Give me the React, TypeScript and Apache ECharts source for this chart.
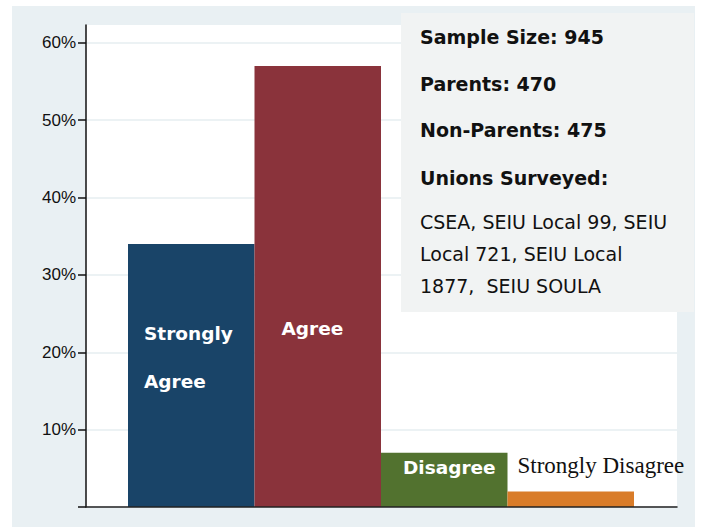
import React, { useEffect, useRef } from "react";
import * as echarts from "echarts";

const categories = ["Strongly Agree", "Agree", "Disagree", "Strongly Disagree"];
const values = [34, 57, 7, 2];
const barColors = ["#194468", "#8a333b", "#52722f", "#d97c29"];
const yTicks = [0, 10, 20, 30, 40, 50, 60];
const yLabels = [10, 20, 30, 40, 50, 60];
const yMax = 62.3;
const boxHeadings = ["Sample Size: 945", "Parents: 470", "Non-Parents: 475", "Unions Surveyed:"];
const boxBody = ["CSEA, SEIU Local 99, SEIU", "Local 721, SEIU Local", "1877,  SEIU SOULA"];

const labelConfigs: any[] = [
  { formatter: "Strongly\nAgree", position: [16, 66], verticalAlign: "top", lineHeight: 48, color: "#fff", fontWeight: "bold", fontFamily: "DejaVu Sans", fontSize: 18.5 },
  { formatter: "Agree", position: [27, 262], verticalAlign: "middle", color: "#fff", fontWeight: "bold", fontFamily: "DejaVu Sans", fontSize: 18.5 },
  { formatter: "Disagree", position: [22, 15], verticalAlign: "middle", color: "#fff", fontWeight: "bold", fontFamily: "DejaVu Sans", fontSize: 18.5 },
  { formatter: "Strongly Disagree", position: [10, -26], verticalAlign: "middle", color: "#111", fontWeight: "normal", fontFamily: "Liberation Serif", fontSize: 23 },
];

export default function App() {
  const ref = useRef<HTMLDivElement>(null);
  useEffect(() => {
    if (!ref.current) return;
    const chart = echarts.init(ref.current, null, { renderer: "svg" });
    const headingY = [31, 78, 124, 172];
    const bodyY = [216, 248, 280];
    const graphics: any[] = [
      { type: "rect", shape: { x: 389, y: 7, width: 293, height: 299 }, style: { fill: "#f1f3f3" }, z: 10 },
      ...boxHeadings.map((t, i) => ({
        type: "text", x: 408, y: headingY[i], z: 11,
        style: { text: t, fill: "#111", font: "bold 19px 'DejaVu Sans'", textVerticalAlign: "middle" },
      })),
      ...boxBody.map((t, i) => ({
        type: "text", x: 408, y: bodyY[i], z: 11,
        style: { text: t, fill: "#111", font: "19px 'DejaVu Sans'", textVerticalAlign: "middle" },
      })),
    ];
    chart.setOption({
      animation: false,
      backgroundColor: "#e9f0f3",
      grid: [
        { left: 74, top: 19, width: 591, height: 482, show: true, backgroundColor: "#ffffff", borderWidth: 0 },
        { left: 116, top: 19, width: 506, height: 482 },
      ],
      xAxis: [
        { type: "value", gridIndex: 0, min: 0, max: 1, z: 5, axisLine: { show: true, onZero: false, lineStyle: { color: "#222", width: 1.5 } }, axisTick: { show: false }, axisLabel: { show: false }, splitLine: { show: false } },
        { type: "category", gridIndex: 1, data: categories, show: false },
      ],
      yAxis: [
        {
          type: "value", gridIndex: 0, min: 0, max: yMax, interval: 10,
          axisLine: { show: true, lineStyle: { color: "#111", width: 1.5 } },
          axisTick: { show: true, length: 8, customValues: yTicks, lineStyle: { color: "#111", width: 1.5 } },
          axisLabel: { customValues: yLabels, formatter: "{value}%", margin: 10, color: "#111", fontSize: 17, fontFamily: "Liberation Sans" },
          splitLine: { show: true, lineStyle: { color: "#e6eef1", width: 1.5 } },
        },
        { type: "value", gridIndex: 1, min: 0, max: yMax, show: false, splitLine: { show: false } },
      ],
      series: [
        {
          type: "bar", xAxisIndex: 1, yAxisIndex: 1, barCategoryGap: "0%",
          data: values.map((v, i) => ({ value: v, itemStyle: { color: barColors[i] }, label: { show: true, align: "left", ...labelConfigs[i] } })),
        },
      ],
      graphic: graphics,
    });
    return () => chart.dispose();
  }, []);
  return (
    <div style={{ position: "fixed", left: 0, top: 0, width: 703, height: 527, background: "#fff" }}>
      <div ref={ref} style={{ position: "absolute", left: 12, top: 6, width: 683, height: 521 }} />
    </div>
  );
}
